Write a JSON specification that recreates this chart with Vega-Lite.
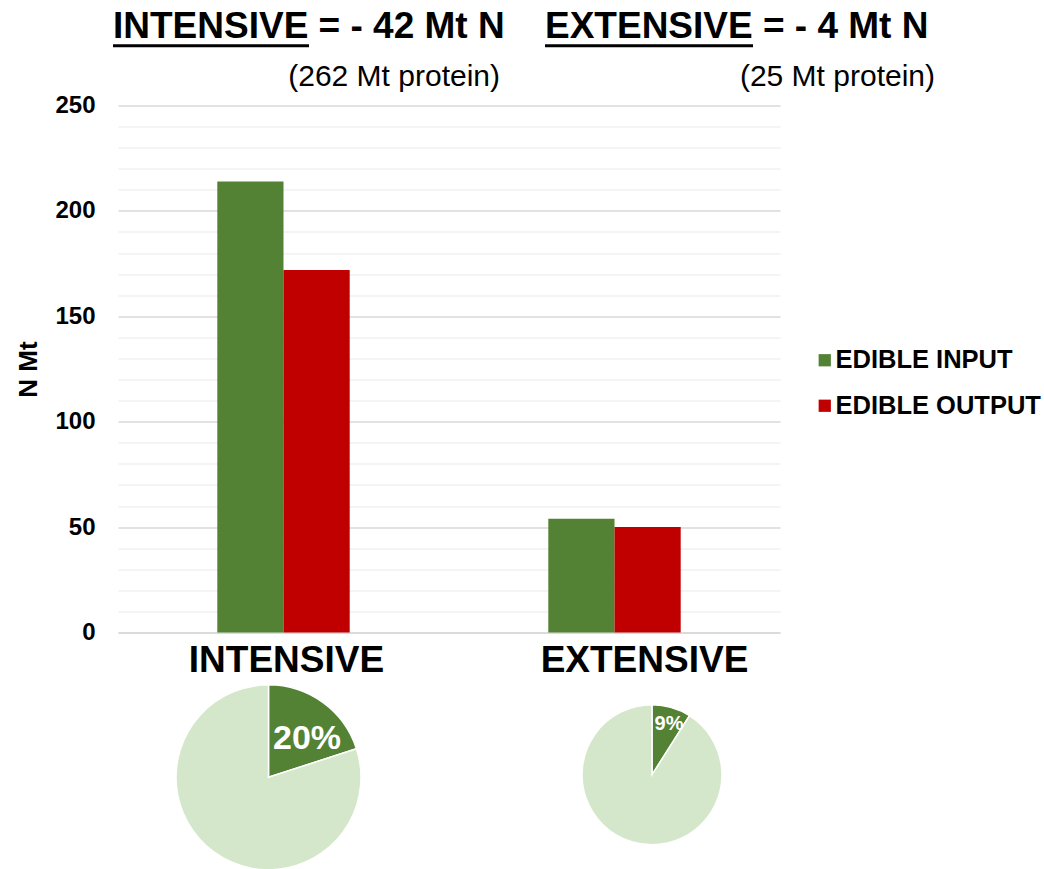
{
  "$schema": "https://vega.github.io/schema/vega-lite/v6.json",
  "width": 662,
  "height": 527,
  "autosize": {"type": "none"},
  "padding": {"left": 118, "top": 105.5, "right": 264, "bottom": 236.5},
  "background": "white",
  "config": {
    "view": {"stroke": null},
    "font": "Liberation Sans"
  },
  "datasets": {
    "bars": [
      {"system": "INTENSIVE", "flow": "EDIBLE INPUT", "n": 214},
      {"system": "INTENSIVE", "flow": "EDIBLE OUTPUT", "n": 172},
      {"system": "EXTENSIVE", "flow": "EDIBLE INPUT", "n": 54},
      {"system": "EXTENSIVE", "flow": "EDIBLE OUTPUT", "n": 50}
    ],
    "headers": [
      {"system": "INTENSIVE", "title": "INTENSIVE = - 42 Mt N", "protein": "(262 Mt protein)"},
      {"system": "EXTENSIVE", "title": "EXTENSIVE = - 4 Mt N", "protein": "(25 Mt protein)"}
    ],
    "pies": [
      {"system": "INTENSIVE", "part": "edible", "share": 0.20},
      {"system": "INTENSIVE", "part": "other", "share": 0.80},
      {"system": "EXTENSIVE", "part": "edible", "share": 0.09},
      {"system": "EXTENSIVE", "part": "other", "share": 0.91}
    ]
  },
  "encoding": {
    "x": {
      "field": "system",
      "type": "nominal",
      "scale": {"domain": ["INTENSIVE", "EXTENSIVE"], "paddingInner": 0.6, "paddingOuter": 0.3},
      "axis": {
        "title": null,
        "labelAngle": 0,
        "labelFontSize": 37,
        "labelFontWeight": "bold",
        "labelColor": "black",
        "labelLimit": 0,
        "labelPadding": 10,
        "labelOffset": {"condition": {"test": "datum.value === 'EXTENSIVE'", "value": 30}, "value": 3},
        "ticks": false,
        "grid": false,
        "domainColor": "#d9d9d9",
        "domainWidth": 1.5
      }
    }
  },
  "resolve": {"axis": {"y": "independent"}},
  "layer": [
    {
      "data": {"name": "bars"},
      "mark": {"type": "bar"},
      "encoding": {
        "xOffset": {"field": "flow", "type": "nominal", "scale": {"paddingInner": 0, "paddingOuter": 0}},
        "y": {
          "field": "n",
          "type": "quantitative",
          "scale": {"domain": [0, 250], "nice": false},
          "axis": {
            "title": "N Mt",
            "tickCount": 25,
            "labelExpr": "datum.value % 50 === 0 ? datum.label : ''",
            "labelOverlap": false,
            "labelFontSize": 24,
            "labelFontWeight": "bold",
            "labelColor": "black",
            "labelPadding": 23,
            "ticks": false,
            "domain": false,
            "gridColor": {"condition": {"test": "datum.value % 50 === 0", "value": "#d9d9d9"}, "value": "#f0f0f0"},
            "gridWidth": 1.5,
            "titleFontSize": 26,
            "titleFontWeight": "bold",
            "titleColor": "black",
            "titlePadding": 13
          }
        },
        "color": {
          "field": "flow",
          "type": "nominal",
          "scale": {"domain": ["EDIBLE INPUT", "EDIBLE OUTPUT"], "range": ["#548235", "#c00000"]},
          "legend": {
            "title": null,
            "orient": "none",
            "legendX": 694,
            "legendY": 242,
            "padding": 0,
            "symbolType": "square",
            "symbolSize": 150,
            "symbolStrokeWidth": 0,
            "labelFontSize": 25.5,
            "labelFontWeight": "bold",
            "labelColor": "black",
            "labelLimit": 0,
            "labelOffset": -2,
            "rowPadding": 18.5
          }
        }
      }
    },
    {
      "data": {"name": "headers"},
      "transform": [{"filter": "datum.system === 'INTENSIVE'"}],
      "mark": {"type": "text", "align": "left", "baseline": "alphabetic", "dx": -170.5, "fontSize": 37, "fontWeight": "bold", "color": "black"},
      "encoding": {
        "y": {"datum": 281.8, "scale": {"domain": [0, 250], "nice": false}, "axis": null},
        "text": {"field": "title"}
      }
    },
    {
      "data": {"name": "headers"},
      "transform": [{"filter": "datum.system === 'INTENSIVE'"}],
      "mark": {"type": "tick", "size": 196, "thickness": 3, "color": "black", "opacity": 1, "xOffset": -72.5},
      "encoding": {
        "y": {"datum": 278.4, "scale": {"domain": [0, 250], "nice": false}, "axis": null}
      }
    },
    {
      "data": {"name": "headers"},
      "transform": [{"filter": "datum.system === 'INTENSIVE'"}],
      "mark": {"type": "text", "align": "right", "baseline": "alphabetic", "dx": 216.5, "fontSize": 30, "color": "black"},
      "encoding": {
        "y": {"datum": 259.3, "scale": {"domain": [0, 250], "nice": false}, "axis": null},
        "text": {"field": "protein"}
      }
    },
    {
      "data": {"name": "headers"},
      "transform": [{"filter": "datum.system === 'EXTENSIVE'"}],
      "mark": {"type": "text", "align": "left", "baseline": "alphabetic", "dx": -69.5, "fontSize": 37, "fontWeight": "bold", "color": "black"},
      "encoding": {
        "y": {"datum": 281.8, "scale": {"domain": [0, 250], "nice": false}, "axis": null},
        "text": {"field": "title"}
      }
    },
    {
      "data": {"name": "headers"},
      "transform": [{"filter": "datum.system === 'EXTENSIVE'"}],
      "mark": {"type": "tick", "size": 208, "thickness": 3, "color": "black", "opacity": 1, "xOffset": 34.5},
      "encoding": {
        "y": {"datum": 278.4, "scale": {"domain": [0, 250], "nice": false}, "axis": null}
      }
    },
    {
      "data": {"name": "headers"},
      "transform": [{"filter": "datum.system === 'EXTENSIVE'"}],
      "mark": {"type": "text", "align": "right", "baseline": "alphabetic", "dx": 320.5, "fontSize": 30, "color": "black"},
      "encoding": {
        "y": {"datum": 259.3, "scale": {"domain": [0, 250], "nice": false}, "axis": null},
        "text": {"field": "protein"}
      }
    },
    {
      "data": {"name": "pies"},
      "transform": [{"filter": "datum.system === 'INTENSIVE'"}],
      "mark": {"type": "arc", "outerRadius": 92.5, "stroke": "white", "strokeWidth": 1.5, "xOffset": -15},
      "encoding": {
        "y": {"datum": -68.7, "scale": {"domain": [0, 250], "nice": false}, "axis": null},
        "theta": {"field": "share", "type": "quantitative", "stack": true},
        "order": {"field": "part", "sort": "ascending"},
        "color": {"condition": {"test": "datum.part === 'edible'", "value": "#548235"}, "value": "#d5e7ca"}
      }
    },
    {
      "data": {"name": "pies"},
      "transform": [{"filter": "datum.system === 'EXTENSIVE'"}],
      "mark": {"type": "arc", "outerRadius": 70, "stroke": "white", "strokeWidth": 1.5, "xOffset": 37.5},
      "encoding": {
        "y": {"datum": -67.5, "scale": {"domain": [0, 250], "nice": false}, "axis": null},
        "theta": {"field": "share", "type": "quantitative", "stack": true},
        "order": {"field": "part", "sort": "ascending"},
        "color": {"condition": {"test": "datum.part === 'edible'", "value": "#548235"}, "value": "#d5e7ca"}
      }
    },
    {
      "data": {"name": "pies"},
      "transform": [{"filter": "datum.system === 'INTENSIVE' && datum.part === 'edible'"}],
      "mark": {"type": "text", "align": "center", "baseline": "middle", "dx": 23.5, "fontSize": 34, "fontWeight": "bold", "color": "white"},
      "encoding": {
        "y": {"datum": -50.5, "scale": {"domain": [0, 250], "nice": false}, "axis": null},
        "text": {"field": "share", "type": "quantitative", "format": ".0%"}
      }
    },
    {
      "data": {"name": "pies"},
      "transform": [{"filter": "datum.system === 'EXTENSIVE' && datum.part === 'edible'"}],
      "mark": {"type": "text", "align": "center", "baseline": "middle", "dx": 54.5, "fontSize": 20, "fontWeight": "bold", "color": "white"},
      "encoding": {
        "y": {"datum": -43.4, "scale": {"domain": [0, 250], "nice": false}, "axis": null},
        "text": {"field": "share", "type": "quantitative", "format": ".0%"}
      }
    }
  ]
}
